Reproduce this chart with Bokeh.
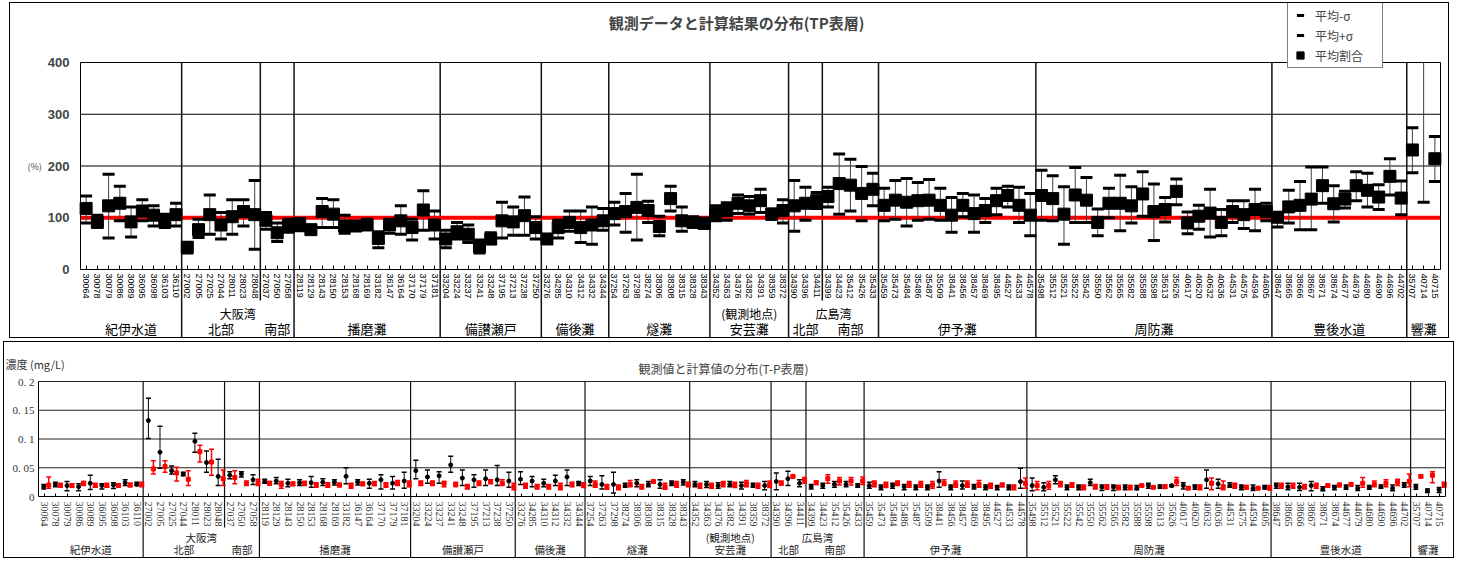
import math
import numpy as np
from bokeh.plotting import figure
from bokeh.models import (ColumnDataSource, FixedTicker, LinearAxis, Range1d,
                          Legend, LegendItem, Label)
from bokeh.layouts import column
from bokeh.embed import file_html
from bokeh.resources import INLINE

JP = "Noto Sans CJK JP"
SANS = "Liberation Sans"
SERIF = "Liberation Serif"

# ---------------- data ----------------
stations = [
    "30064", "30078", "30079", "30086", "30089", "36095", "36098", "36103", "36110",
    "27002", "27005", "27025", "27044", "28011", "28023", "28048",
    "27037", "27050", "27058",
    "28119", "28129", "28143", "28150", "28153", "28168", "28169", "33182", "36147",
    "36164", "37170", "37179", "37181",
    "33204", "33224", "33237", "33241", "33248", "37195", "37213", "37238", "37250",
    "33276", "34285", "34310", "34312", "34332", "34344",
    "37254", "37263", "37298", "38274", "38306", "38308", "38315", "38328", "38343",
    "34352", "34363", "34376", "34382", "34391", "38359", "38372",
    "34390", "34396", "34411",
    "34399", "34423", "35412", "35426", "35433",
    "35459", "35473", "35484", "35486", "35487", "35509", "38441", "38456", "38457",
    "38469", "38495", "44527", "44533", "44578",
    "35498", "35512", "35521", "35522", "35542", "35550", "35562", "35565", "35582",
    "35588", "35598", "35613", "35626", "40617", "40620", "40632", "40636", "44531",
    "44575", "44594", "44605",
    "38647", "38665", "38666", "38667", "38671", "38674", "44677", "44679", "44680",
    "44690", "44696", "44702",
    "35707", "40714", "40715",
]
group_names = ["紀伊水道", "北部", "南部", "播磨灘", "備讃瀬戸", "備後灘", "燧灘", "安芸灘",
               "北部", "南部", "伊予灘", "周防灘", "豊後水道", "響灘"]
group_sizes = [9, 7, 3, 13, 9, 6, 9, 7, 3, 5, 14, 21, 12, 3]
sub_split_after = [1, 8]          # 北部|南部 splits inside 大阪湾 and 広島湾
parent_labels = ["大阪湾", "(観測地点)", "広島湾"]
parent_groups = [(1, 2), (7, 7), (8, 9)]

# top chart: ratio (%) mean, mean-sigma, mean+sigma
ratio_mean = [118, 91, 123, 128, 92, 113, 105, 94, 106,
              43, 77, 106, 86, 102, 112, 106,
              95, 71, 84,
              89, 77, 112, 107, 84, 84, 86, 60, 86, 94, 81, 115, 86,
              59, 73, 68, 44, 59, 94, 92, 104, 81,
              59, 81, 91, 81, 86, 94,
              108, 112, 120, 114, 83, 137, 94, 91, 89,
              108, 114, 128, 123, 133, 107, 114,
              123, 128, 133,
              141, 166, 163, 147, 155,
              124, 134, 130, 133, 134, 124, 105, 124, 108, 114, 133, 143, 124, 105,
              143, 137, 107, 144, 134, 91, 128, 128, 123, 146, 112, 116, 151, 90, 103,
              109, 91, 112, 106, 116, 112,
              101, 121, 124, 136, 162, 127, 136, 162, 153, 140, 180, 138,
              231, 450, 214]
ratio_lo = [90, 85, 61, 94, 63, 94, 84, 81, 84,
            32, 62, 68, 59, 68, 84, 39,
            78, 54, 72,
            75, 70, 81, 81, 70, 76, 79, 42, 70, 68, 57, 76, 59,
            42, 59, 52, 32, 50, 61, 66, 66, 59,
            52, 61, 74, 52, 49, 76,
            86, 72, 57, 91, 65, 113, 74, 83, 79,
            94, 95, 108, 107, 110, 97, 90,
            74, 95, 118,
            121, 107, 113, 94, 123,
            94, 97, 84, 95, 97, 95, 72, 102, 72, 91, 106, 121, 91, 65,
            95, 94, 49, 91, 91, 65, 100, 75, 90, 103, 56, 92, 125, 69, 78,
            63, 65, 91, 79, 75, 94,
            82, 90, 77, 77, 128, 92, 119, 133, 121, 116, 144, 106,
            187, 130, 170]
ratio_hi = [142, 105, 184, 161, 121, 135, 123, 107, 128,
            52, 97, 144, 110, 135, 135, 172,
            110, 90, 97,
            97, 85, 137, 135, 105, 91, 97, 73, 97, 123, 97, 152, 113,
            76, 91, 86, 57, 71, 130, 121, 140, 102,
            66, 95, 113, 113, 121, 118,
            130, 147, 184, 132, 103, 161, 121, 102, 99,
            123, 129, 144, 141, 155, 117, 135,
            172, 159, 149,
            159, 223, 213, 199, 186,
            157, 172, 176, 168, 174, 157, 139, 147, 144, 137, 157, 161, 159, 147,
            192, 181, 160, 197, 178, 117, 157, 182, 160, 189, 165, 139, 175, 111, 124,
            155, 116, 133, 133, 155, 128,
            110, 153, 170, 198, 198, 162, 151, 189, 186, 164, 214, 171,
            274, 770, 257]
ref_ratio = 100

# bottom chart: T-P concentration (mg/L), observed (black) and computed (red)
obs_mean = [.017, .021, .019, .017, .023, .019, .020, .024, .021,
            .132, .077, .045, .039, .096, .059, .035,
            .037, .039, .029,
            .026, .027, .023, .024, .024, .025, .025, .035, .025, .023, .029, .023, .027,
            .045, .034, .036, .055, .032, .029, .031, .029, .027,
            .030, .027, .023, .027, .034, .023,
            .027, .021, .021, .019, .023, .021, .021, .023, .025,
            .021, .021, .019, .021, .019, .019, .019,
            .026, .031, .023,
            .017, .019, .021, .021, .019,
            .019, .016, .019, .017, .016, .016, .027, .016, .019, .017, .016, .016, .016, .026,
            .019, .016, .029, .016, .016, .024, .016, .016, .016, .0145, .019, .017, .019,
            .019, .017, .029, .022, .019, .016, .0145, .016,
            .019, .017, .016, .019, .013, .016, .016, .0145, .016, .017, .0145, .020,
            .017, .010, .0116]
obs_lo = [.013, .017, .010, .010, .012, .013, .014, .019, .019,
          .101, .049, .039, .036, .077, .042, .019,
          .031, .034, .021,
          .023, .022, .017, .019, .016, .019, .020, .022, .020, .0145, .013, .013, .0145,
          .031, .023, .023, .042, .019, .016, .019, .019, .016,
          .021, .017, .017, .019, .019, .019,
          .019, .013, .006, .016, .017, .017, .0145, .019, .020,
          .017, .0157, .0145, .017, .013, .016, .0116,
          .0116, .019, .017,
          .013, .0145, .016, .017, .016,
          .0145, .0116, .0145, .0116, .0116, .0116, .016, .0116, .013, .013, .0116, .0116,
          .0116, .0145,
          .010, .010, .022, .0116, .0116, .019, .0104, .0104, .0116, .0116, .0145, .0145,
          .017, .013, .0128, .0145, .0145, .016, .0116, .0104, .013,
          .0145, .0116, .0104, .0099, .0099, .0116, .0128, .0104, .0128, .0145, .0099, .016,
          .0128, .007, .007]
obs_hi = [.021, .025, .026, .022, .037, .022, .024, .029, .025,
          .171, .122, .053, .042, .110, .079, .065,
          .043, .043, .038,
          .030, .033, .030, .029, .035, .031, .029, .050, .029, .030, .038, .035, .042,
          .063, .046, .043, .070, .046, .038, .046, .054, .042,
          .043, .035, .030, .037, .046, .026,
          .035, .036, .042, .023, .029, .026, .029, .027, .029,
          .026, .026, .024, .026, .025, .023, .026,
          .041, .044, .029,
          .021, .023, .026, .026, .022,
          .025, .020, .023, .021, .020, .020, .043, .020, .027, .021, .020, .019, .020, .049,
          .032, .024, .036, .020, .020, .030, .020, .020, .020, .019, .023, .020, .020,
          .024, .020, .046, .030, .024, .020, .020, .019,
          .023, .023, .023, .026, .017, .019, .020, .019, .019, .020, .020, .024,
          .021, .013, .0157]
calc_mean = [.020, .019, .019, .023, .019, .019, .019, .020, .021,
             .048, .052, .041, .030, .078, .060, .031,
             .033, .023, .024,
             .023, .021, .022, .023, .020, .020, .020, .019, .022, .022, .020, .023, .022,
             .023, .023, .023, .020, .017, .023, .026, .023, .017,
             .019, .017, .017, .017, .021, .020,
             .021, .017, .016, .021, .017, .026, .017, .021, .021,
             .019, .019, .022, .020, .022, .019, .021,
             .023, .035, .029,
             .024, .031, .027, .027, .027,
             .022, .020, .023, .021, .021, .020, .023, .021, .021, .021, .019, .020, .016, .023,
             .019, .019, .022, .020, .016, .017, .017, .016, .016, .019, .016, .017, .026,
             .0145, .016, .023, .017, .019, .016, .0145, .0145,
             .019, .019, .017, .019, .019, .020, .021, .023, .021, .023, .025, .026,
             .035, .037, .021]
calc_lo = [.0145, .016, .016, .019, .016, .016, .017, .017, .017,
           .039, .042, .027, .019, .060, .037, .019,
           .022, .019, .019,
           .020, .0145, .019, .019, .016, .016, .017, .0145, .019, .019, .016, .019, .017,
           .019, .019, .017, .019, .013, .019, .022, .019, .0116,
           .0145, .013, .013, .0116, .017, .0157,
           .016, .0128, .0116, .017, .013, .024, .0128, .016, .017,
           .0145, .0145, .017, .0157, .017, .0145, .0157,
           .020, .033, .023,
           .021, .023, .020, .020, .021,
           .017, .0157, .019, .016, .016, .0145, .019, .016, .016, .016, .0145, .017, .0116,
           .0145,
           .0116, .0128, .017, .016, .0116, .013, .0128, .0116, .0116, .017, .0145, .0145,
           .019, .0128, .0116, .0116, .0116, .0145, .013, .0128, .0116,
           .0145, .0145, .013, .0145, .016, .017, .019, .016, .017, .017, .019, .017,
           .033, .024, .016]
calc_hi = [.034, .023, .022, .026, .023, .023, .022, .023, .025,
           .062, .062, .051, .045, .089, .082, .046,
           .045, .027, .030,
           .026, .026, .025, .026, .024, .024, .023, .023, .025, .026, .024, .028, .027,
           .027, .027, .026, .025, .021, .027, .029, .029, .023,
           .023, .021, .021, .023, .025, .024,
           .027, .021, .020, .028, .021, .028, .023, .026, .025,
           .023, .023, .026, .025, .028, .023, .027,
           .027, .037, .033,
           .027, .038, .033, .033, .034,
           .027, .025, .027, .026, .026, .026, .029, .027, .027, .028, .023, .023, .020, .032,
           .026, .026, .026, .024, .020, .021, .020, .019, .019, .020, .017, .020, .033,
           .017, .020, .032, .027, .023, .019, .016, .019,
           .023, .023, .021, .023, .020, .023, .024, .033, .027, .029, .030, .039,
           .037, .043, .025]

# ---------------- derived positions ----------------
n = len(stations)
idx = np.arange(n)
starts = np.cumsum([0] + group_sizes[:-1])
ends = starts + np.array(group_sizes) - 1
group_centers = [float((s + e) / 2) for s, e in zip(starts, ends)]
main_bounds = [float(e + 0.5) for gi, e in enumerate(ends[:-1]) if gi not in sub_split_after]
sub_bounds = [float(ends[gi] + 0.5) for gi in sub_split_after]
parent_centers = [float((starts[a] + ends[b]) / 2) for a, b in parent_groups]


class Geom:
    """Maps canvas pixels to data so that the plot area sits where wanted
    while the frame covers the whole canvas (nothing outside gets clipped)."""

    def __init__(self, w, h, left, right, top, zero, ytop):
        self.w, self.h = w, h
        self.ux = (right - left) / n                 # px per category
        self.uy = ytop / (zero - top)                # data per px
        self.x0 = -0.5 - left / self.ux
        self.x1 = n - 0.5 + (w - right) / self.ux
        self.y1 = ytop + top * self.uy
        self.y0 = -(h - zero) * self.uy
        self.ytop = ytop

    def x(self, px):
        return self.x0 + px / self.ux

    def y(self, py):
        return self.y1 - py * self.uy

    def below(self, dpx):
        return -dpx * self.uy


def build_chart(g, margin, yticks, grid_ticks, grid_color, sep_width, st_font, st_size,
                st_color, st_tick, st_standoff, row_sizes, row_depths, row_color, sub_depth):
    p = figure(width=g.w, height=g.h, x_range=Range1d(g.x0, g.x1), y_range=Range1d(g.y0, g.y1),
               output_backend="svg", toolbar_location=None, margin=margin,
               min_border_left=0, min_border_right=0, min_border_top=0, min_border_bottom=0)
    p.title.visible = False
    p.styles = {"border": "1px solid black"}
    p.outline_line_color = None
    p.xgrid.visible = False
    p.ygrid.visible = False
    ytop = g.ytop

    # left value axis (only over the plot part)
    ya = p.yaxis[0]
    ya.fixed_location = -0.5
    ya.bounds = (0, ytop)
    ya.ticker = FixedTicker(ticks=yticks)
    ya.major_tick_in = 0
    ya.major_tick_out = 0
    ya.minor_tick_out = 0
    ya.axis_line_color = "black"
    # right edge of plot area
    p.add_layout(LinearAxis(fixed_location=n - 0.5, bounds=(0, ytop),
                            ticker=FixedTicker(ticks=[]), major_tick_in=0, major_tick_out=0,
                            minor_tick_out=0, axis_line_color="black"), "right")
    # horizontal grid + top edge
    hsrc = ColumnDataSource(dict(y=list(grid_ticks) + [ytop]))
    p.segment(x0=-0.5, y0="y", x1=n - 0.5, y1="y", source=hsrc,
              line_color=grid_color, line_width=1)
    # region separators (main ones run down to the bottom of the chart)
    p.segment(x0="x", y0=ytop, x1="x", y1=g.y0, source=ColumnDataSource(dict(x=main_bounds)),
              line_color="#111", line_width=sep_width)
    p.segment(x0="x", y0=ytop, x1="x", y1=g.below(sub_depth),
              source=ColumnDataSource(dict(x=sub_bounds)),
              line_color="#111", line_width=sep_width)
    # station axis on y = 0
    xa = p.xaxis[0]
    xa.fixed_location = 0
    xa.bounds = (-0.5, n - 0.5)
    xa.ticker = FixedTicker(ticks=list(range(n)))
    xa.major_label_overrides = {i: s for i, s in enumerate(stations)}
    xa.major_label_orientation = -math.pi / 2
    xa.major_tick_in = st_tick
    xa.major_tick_out = 0
    xa.minor_tick_out = 0
    xa.major_label_standoff = st_standoff
    xa.major_label_text_font = st_font
    xa.major_label_text_font_size = st_size
    xa.major_label_text_color = st_color
    xa.axis_line_color = "black"
    # region label rows
    rows = [(parent_centers, parent_labels), (group_centers, group_names)]
    for (ticks, labels), fs, depth in zip(rows, row_sizes, row_depths):
        ax = LinearAxis(
            fixed_location=g.below(depth),
            ticker=FixedTicker(ticks=ticks),
            major_label_overrides=dict(zip(ticks, labels)),
            axis_line_color=None, major_tick_in=0, major_tick_out=0,
            major_tick_line_color=None, minor_tick_line_color=None,
            major_label_standoff=0, major_label_text_font=JP,
            major_label_text_font_size=fs, major_label_text_color=row_color)
        p.add_layout(ax, "below")
    return p


# ---------------- top chart ----------------
g1 = Geom(w=1440, h=336, left=70, right=1430, top=59, zero=266, ytop=400)
p1 = build_chart(g1, (2, 0, 0, 9), [0, 100, 200, 300, 400], [100, 200, 300], "black", 1.5,
                 SANS, "9px", "black", 4, 4, ["12px", "13px"], [35, 49], "black", 31)

ya = p1.yaxis[0]
ya.major_label_text_font = SANS
ya.major_label_text_font_size = "13px"
ya.major_label_text_font_style = "bold"
ya.major_label_standoff = 11
ya.axis_label = "(%)"
ya.axis_label_orientation = "horizontal"
ya.axis_label_text_font = JP
ya.axis_label_text_font_size = "9px"
ya.axis_label_text_font_style = "normal"
ya.axis_label_standoff = 3

p1.add_layout(Label(x=g1.x(726), y=g1.y(19), text="観測データと計算結果の分布(TP表層)",
                    text_align="center", text_baseline="middle",
                    text_font=JP, text_font_size="15px", text_font_style="bold"))

# values beyond the 400 % scale are not drawn (off scale in the original chart)
rm = np.array(ratio_mean, dtype=float)
rl = np.array(ratio_lo, dtype=float)
rh = np.array(ratio_hi, dtype=float)
src1 = ColumnDataSource(dict(x=idx,
                             mean=np.where(rm <= 400, rm, np.nan),
                             lo=np.where(rl <= 400, rl, np.nan),
                             hi=np.where(rh <= 400, rh, np.nan),
                             whi=np.minimum(rh, 400)))
p1.segment(x0=-0.5, y0=ref_ratio, x1=n - 0.5, y1=ref_ratio, line_color="red", line_width=4)
p1.segment(x0="x", y0="lo", x1="x", y1="whi", source=src1, line_color="#404040", line_width=1)
r_lo = p1.scatter("x", "lo", source=src1, marker="dash", size=12, line_width=3,
                  line_color="black")
r_hi = p1.scatter("x", "hi", source=src1, marker="dash", size=12, line_width=3,
                  line_color="black")
r_mean = p1.scatter("x", "mean", source=src1, marker="square", size=12,
                    fill_color="black", line_color="black")

legend = Legend(items=[LegendItem(label="平均-σ", renderers=[r_lo]),
                       LegendItem(label="平均+σ", renderers=[r_hi]),
                       LegendItem(label="平均割合", renderers=[r_mean])],
                location=(1277, 271), orientation="vertical",
                border_line_color="black", border_line_width=1,
                background_fill_color="white", background_fill_alpha=1,
                label_text_font=JP, label_text_font_size="12px",
                glyph_width=18, glyph_height=18, spacing=2, padding=3, margin=0,
                label_standoff=6, label_width=64, label_height=18)
p1.add_layout(legend, "center")

# ---------------- bottom chart ----------------
g2 = Geom(w=1451, h=217, left=34, right=1441, top=39, zero=154, ytop=0.2)
p2 = build_chart(g2, (0, 0, 0, 3), [0, 0.05, 0.1, 0.15, 0.2], [0.05, 0.1, 0.15], "#222", 1.2,
                 SERIF, "10px", "#333", 3, 5, ["10.5px", "10.5px"], [33, 45], "#222", 31)

yb = p2.yaxis[0]
yb.major_label_overrides = {0: "0", 0.05: "0. 05", 0.1: "0. 1", 0.15: "0. 15", 0.2: "0. 2"}
yb.major_label_text_font = SERIF
yb.major_label_text_font_size = "11px"
yb.major_label_text_color = "#333"
yb.major_label_standoff = 4

p2.add_layout(Label(x=g2.x(719), y=g2.y(26), text="観測値と計算値の分布(T-P表層)",
                    text_align="center", text_baseline="middle",
                    text_font=JP, text_font_size="12px", text_color="#444"))
p2.add_layout(Label(x=g2.x(1), y=g2.y(21), text="濃度 (mg/L)",
                    text_align="left", text_baseline="middle",
                    text_font=JP, text_font_size="11px", text_color="#333"))

src2 = ColumnDataSource(dict(xo=idx - 0.05, xc=idx + 0.38,
                             om=obs_mean, ol=obs_lo, oh=obs_hi,
                             cm=calc_mean, cl=calc_lo, ch=calc_hi))
p2.segment(x0="xo", y0="ol", x1="xo", y1="oh", source=src2, line_color="black", line_width=1)
p2.scatter("xo", "ol", source=src2, marker="dash", size=5, line_width=1.5, line_color="black")
p2.scatter("xo", "oh", source=src2, marker="dash", size=5, line_width=1.5, line_color="black")
p2.scatter("xo", "om", source=src2, marker="circle", size=4, fill_color="black",
           line_color="black")
p2.segment(x0="xc", y0="cl", x1="xc", y1="ch", source=src2, line_color="red", line_width=1.5)
p2.scatter("xc", "cl", source=src2, marker="dash", size=5, line_width=1.5, line_color="red")
p2.scatter("xc", "ch", source=src2, marker="dash", size=5, line_width=1.5, line_color="red")
p2.scatter("xc", "cm", source=src2, marker="square", size=4, fill_color="red",
           line_color="red")

layout = column(p1, p2, spacing=3)
open("out.html", "w").write(file_html(layout, INLINE))
